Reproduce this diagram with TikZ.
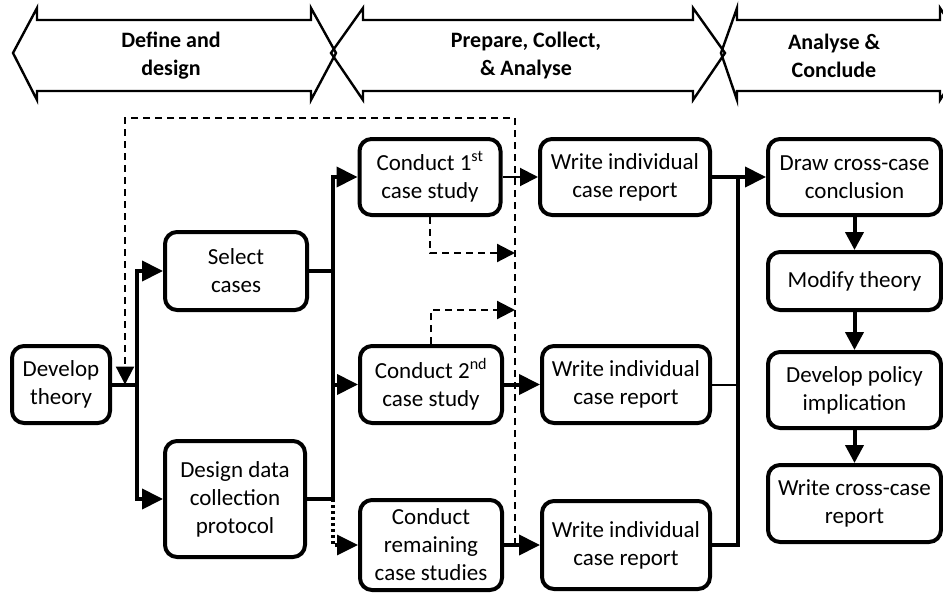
\documentclass[tikz,border=0pt]{standalone}
\usepackage{fontspec}
\setmainfont{Carlito}
\usetikzlibrary{arrows.meta}
\begin{document}
\begin{tikzpicture}[x=1pt,y=-1pt,
  box/.style={draw, line width=4pt, rounded corners=12pt, align=center,
    inner sep=0pt, font=\fontsize{23}{28}\selectfont},
  band/.style={draw, line width=2.4pt, line join=miter},
  band label/.style={align=center, font=\bfseries\fontsize{22}{28}\selectfont},
  link/.style={line width=4pt, line cap=rect},
  thin link/.style={line width=2pt},
  dash link/.style={line width=2.2pt, dash pattern=on 7pt off 5pt},
  dot link/.style={line width=3.2pt, dash pattern=on 3pt off 3pt},
  tip/.style={-{Triangle[length=21pt,width=20pt]}},
  small tip/.style={-{Triangle[length=18pt,width=18pt]}},
]
\useasboundingbox (0,0) rectangle (943,594);

% phase bands
\draw[band] (13,53) -- (37,8) -- (37,20) -- (311,20) -- (311,8) -- (336,53)
  -- (311,100) -- (311,91) -- (37,91) -- (37,100) -- cycle;
\draw[band] (331,53) -- (363,8) -- (363,20) -- (693,20) -- (693,8) -- (725,53)
  -- (693,100) -- (693,91) -- (363,91) -- (363,100) -- cycle;
\draw[band] (721,53) -- (737,8) -- (737,20) -- (940,20) -- (940,8) -- (970,53)
  -- (940,100) -- (940,91) -- (737,91) -- (737,100) -- cycle;
\node[band label] (p1) at (171,56) {Define and\\design};
\node[band label] (p2) at (526,56) {Prepare, Collect,\\\& Analyse};
\node[band label] (p3) at (834,56) {Analyse \&\\Conclude};

% process steps
\node[box, minimum width=98pt, minimum height=77pt] (dev) at (61,384.5) {Develop\\theory};
\node[box, minimum width=142pt, minimum height=78pt] (sel) at (236,271) {Select\\cases};
\node[box, minimum width=140pt, minimum height=116pt] (des) at (235,499) {Design data\\collection\\protocol};
\node[box, minimum width=141pt, minimum height=76pt] (c1) at (430,177) {Conduct 1\textsuperscript{st}\\case study};
\node[box, minimum width=142pt, minimum height=77pt] (c2) at (431,384.5) {Conduct 2\textsuperscript{nd}\\case study};
\node[box, minimum width=142pt, minimum height=90pt] (c3) at (431,545) {Conduct\\remaining\\case studies};
\node[box, minimum width=170pt, minimum height=76pt] (w1) at (625,177) {Write individual\\case report};
\node[box, minimum width=168pt, minimum height=77pt] (w2) at (626,384.5) {Write individual\\case report};
\node[box, minimum width=168pt, minimum height=88pt] (w3) at (626,545) {Write individual\\case report};
\node[box, minimum width=173pt, minimum height=76pt] (dr) at (854.5,177) {Draw cross-case\\conclusion};
\node[box, minimum width=173pt, minimum height=58pt] (mod) at (854.5,281) {Modify theory};
\node[box, minimum width=173pt, minimum height=76pt] (pol) at (854.5,390) {Develop policy\\implication};
\node[box, minimum width=173pt, minimum height=77pt] (wcr) at (854.5,503.5) {Write cross-case\\report};

% trunk lines and loop corners
\coordinate (ta) at (137,0);
\coordinate (tb) at (333,0);
\coordinate (tc) at (738,0);
\coordinate (fb) at (515,0);
\coordinate (fl) at (125,0);
\coordinate (ft) at (0,118);
\coordinate (d1) at (515,253);
\coordinate (d2) at (515,310);

% theory to design
\draw[link] (dev.east) -- (dev.east -| ta);
\draw[link] (sel.west -| ta) -- (des.west -| ta);
\draw[link,tip] (sel.west -| ta) -- (sel.west);
\draw[link,tip] (des.west -| ta) -- (des.west);

% design to case studies
\draw[link] (sel.east) -- (sel.east -| tb);
\draw[link] (des.east) -- (des.east -| tb);
\draw[link] (c1.west -| tb) -- (des.east -| tb);
\draw[link,tip] (c1.west -| tb) -- (c1.west);
\draw[link,tip] (c2.west -| tb) -- (c2.west);
\draw[dot link,tip] (des.east -| tb) -- (c3.west -| tb) -- (c3.west);

% case studies to reports
\draw[thin link,small tip] (c1.east) -- (w1.west);
\draw[link,tip] (c2.east) -- (w2.west);
\draw[link,tip] (c3.east) -- (w3.west);

% feedback loop back to theory
\draw[dash link,small tip] (c3.east -| fb) -- (ft -| fb) -- (ft -| fl) -- (dev.east -| fl);
\draw[dash link,small tip] (c1.south) |- (d1);
\draw[dash link,small tip] (c2.north) |- (d2);

% reports to cross-case analysis
\draw[link] (w1.east) -- (w1.east -| tc);
\draw[thin link] (w2.east) -- (w2.east -| tc);
\draw[link] (w3.east) -- (w3.east -| tc);
\draw[link] (w1.east -| tc) -- (w3.east -| tc);
\draw[link,tip] (w1.east -| tc) -- (dr.west);

% cross-case chain
\draw[link,small tip] (dr.south) -- (mod.north);
\draw[link,small tip] (mod.south) -- (pol.north);
\draw[link,small tip] (pol.south) -- (wcr.north);
\end{tikzpicture}
\end{document}
